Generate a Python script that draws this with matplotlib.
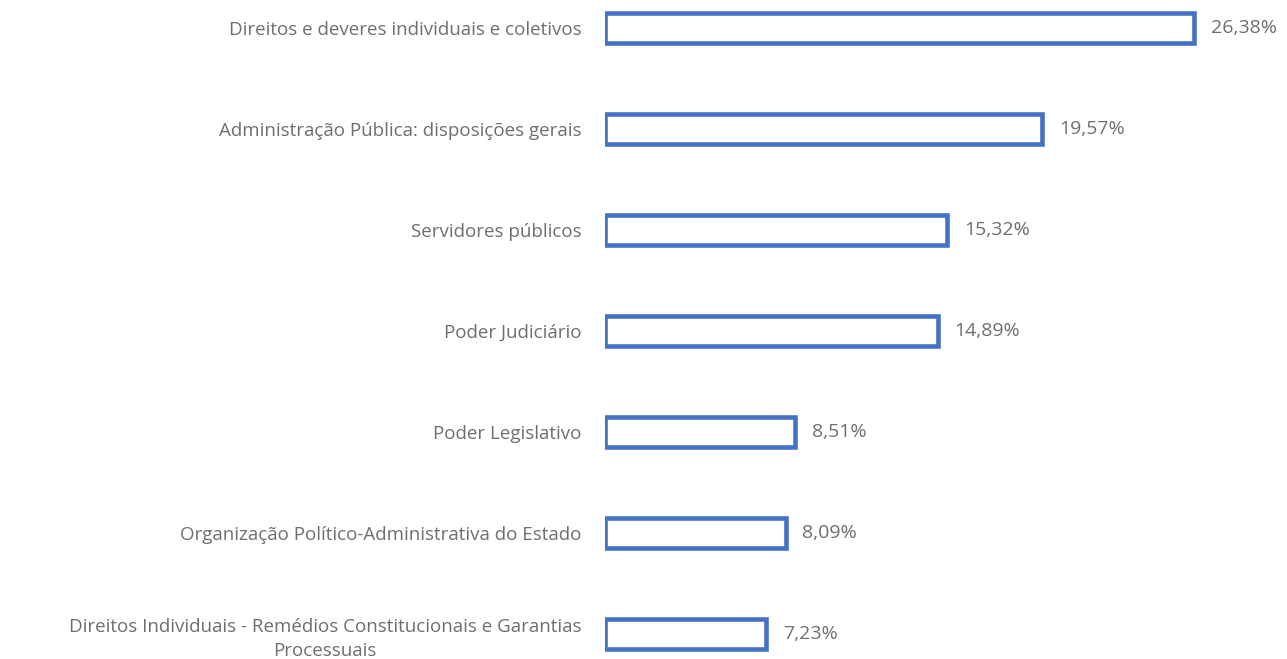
import matplotlib.pyplot as plt

categories = [
    "Direitos e deveres individuais e coletivos",
    "Administração Pública: disposições gerais",
    "Servidores públicos",
    "Poder Judiciário",
    "Poder Legislativo",
    "Organização Político-Administrativa do Estado",
    "Direitos Individuais - Remédios Constitucionais e Garantias\nProcessuais",
]
values = [26.38, 19.57, 15.32, 14.89, 8.51, 8.09, 7.23]
value_labels = ["26,38%", "19,57%", "15,32%", "14,89%", "8,51%", "8,09%", "7,23%"]

BLUE = "#4472C4"
GRAY = "#6E6E6E"

plt.rcParams['font.family'] = ['Open Sans', 'DejaVu Sans']

fig = plt.figure(figsize=(12.87, 6.59), dpi=100)
ax = fig.add_axes([0.4701, 0.0, 0.5206, 1.0])

y = list(range(len(categories)))
ax.barh(y, values, height=0.29, facecolor="white", edgecolor=BLUE, linewidth=3.3)

for yi, v, lab in zip(y, values, value_labels):
    ax.annotate(lab, xy=(v, yi), xytext=(12, 0), textcoords="offset points",
                ha="left", va="center", fontsize=14, color=GRAY)

ax.set_xlim(0, 30)
ax.set_ylim(6.248, -0.277)
ax.set_yticks(y)
ax.set_yticklabels(categories, fontsize=13.5, color=GRAY, multialignment="center",
                   linespacing=1.45)
ax.tick_params(axis="y", length=0, pad=17)
ax.set_xticks([])
for s in ax.spines.values():
    s.set_visible(False)

fig.savefig("out.png", dpi=100)
